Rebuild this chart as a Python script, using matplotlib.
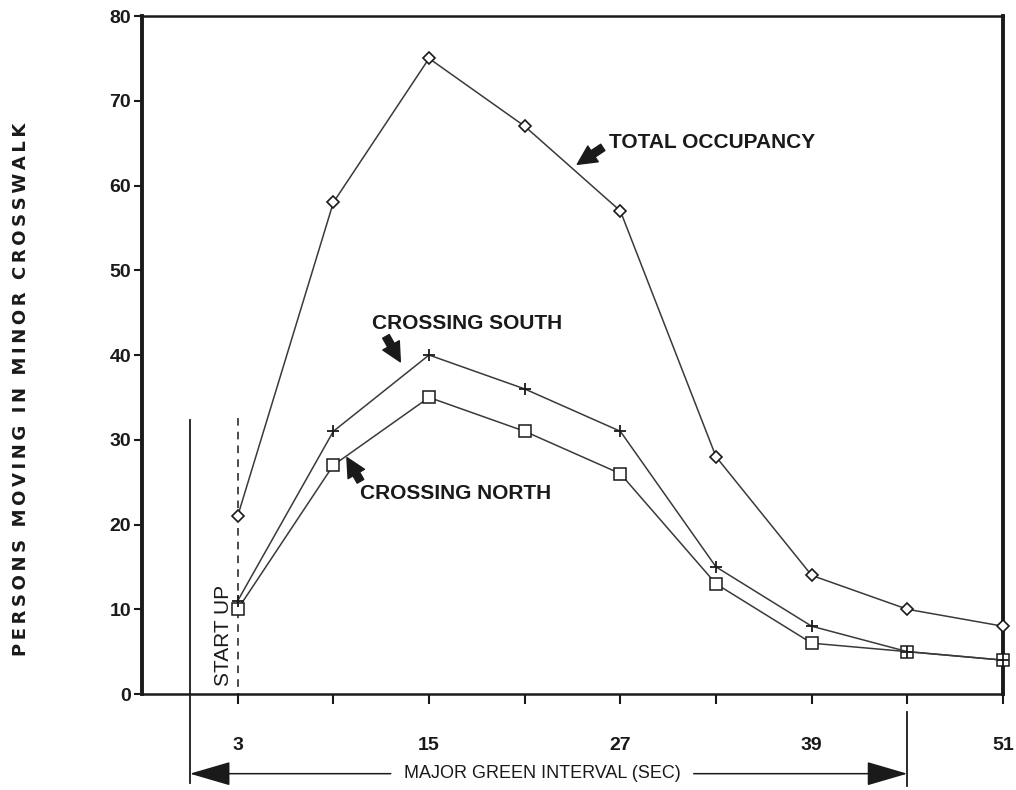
import numpy as np
import matplotlib.pyplot as plt

# green interval (sec)
seconds = [3, 9, 15, 21, 27, 33, 39, 45, 51]
total_occupancy = [21, 58, 75, 67, 57, 28, 14, 10, 8]
crossing_south = [11, 31, 40, 36, 31, 15, 8, 5, 4]
crossing_north = [10, 27, 35, 31, 26, 13, 6, 5, 4]

major_ticks = [3, 15, 27, 39, 51]
minor_ticks = [9, 21, 33, 45]
y_ticks = [0, 10, 20, 30, 40, 50, 60, 70, 80]
ylabel_words = ['PERSONS', 'MOVING', 'IN', 'MINOR', 'CROSSWALK']

ink = '#1a1a1a'
line = '#3a3a3a'
plt.rcParams['font.family'] = ['Liberation Sans', 'DejaVu Sans']

fig = plt.figure(figsize=(10.16, 7.9), dpi=100)
ax = fig.add_axes([0.1398, 0.1215, 0.8474, 0.8582])

ax.plot(seconds, total_occupancy, color=line, lw=1.1, marker='D', ms=6,
        mfc='white', mec=ink, mew=1.2, zorder=3, clip_on=False)
ax.plot(seconds, crossing_north, color=line, lw=1.1, marker='s', ms=8.5,
        mfc='white', mec=ink, mew=1.1, zorder=3, clip_on=False)
ax.plot(seconds, crossing_south, color=line, lw=1.1, marker='+', ms=9,
        mec=ink, mew=1.3, zorder=4, clip_on=False)

ax.set_xlim(-3, 51)
ax.set_ylim(0, 80)
ax.set_xticks(major_ticks)
ax.set_xticks(minor_ticks, minor=True)
ax.set_yticks(y_ticks)

ax.tick_params(axis='x', which='both', direction='out', length=7, width=1.5,
               pad=24, labelsize=14, colors=ink)
ax.tick_params(axis='y', direction='out', length=6, width=1.5, pad=2,
               labelsize=14, colors=ink)
for lab in ax.get_xticklabels() + ax.get_yticklabels():
    lab.set_fontweight('bold')

ax.spines['left'].set_linewidth(2.8)
ax.spines['right'].set_linewidth(2.8)
ax.spines['top'].set_linewidth(1.8)
ax.spines['bottom'].set_linewidth(1.8)
for s in ax.spines.values():
    s.set_color(ink)

# letter-spaced axis title
ylabel = '  '.join('\u2009'.join(w) for w in ylabel_words)
ax.set_ylabel(ylabel, fontsize=13, fontweight='bold', color=ink, labelpad=0,
              family='DejaVu Sans')
ax.yaxis.set_label_coords(-0.13, 0.45)

# start up marker
ax.plot([3, 3], [32.6, 0], color=ink, lw=1.1, ls=(0, (5, 4)), zorder=2)
ax.text(2.1, 6.9, 'START UP', rotation=90, ha='center', va='center',
        fontsize=15, color=ink)

# major green interval bracket (below the axis)
ax.plot([0, 0], [32.3, -10.5], color=ink, lw=1.3, clip_on=False)
ax.plot([45, 45], [-2.1, -10.8], color=ink, lw=1.3, clip_on=False)
head = dict(arrowstyle='-|>,head_length=1.3,head_width=0.38', color=ink,
            lw=1.1, shrinkA=0, shrinkB=0, mutation_scale=20)
ax.annotate('', xy=(0, -9.4), xytext=(12.6, -9.4), arrowprops=head,
            annotation_clip=False)
ax.annotate('', xy=(45, -9.4), xytext=(31.6, -9.4), arrowprops=head,
            annotation_clip=False)
ax.text(22.1, -9.4, 'MAJOR GREEN INTERVAL (SEC)', ha='center', va='center',
        fontsize=13, color=ink, clip_on=False,
        bbox=dict(fc='white', ec='none', pad=1))

# series labels with short fat arrows
fat = dict(arrowstyle='simple,head_length=0.8,head_width=0.8,tail_width=0.32',
           color=ink, shrinkA=0, shrinkB=0, mutation_scale=17)
ax.annotate('', xy=(24.3, 62.5), xytext=(25.9, 64.5), arrowprops=fat)
ax.text(26.3, 65.1, 'TOTAL OCCUPANCY', ha='left', va='center', fontsize=15,
        fontweight='bold', color=ink)
ax.annotate('', xy=(13.2, 39.2), xytext=(12.3, 42.2), arrowprops=fat)
ax.text(11.4, 43.7, 'CROSSING SOUTH', ha='left', va='center', fontsize=15,
        fontweight='bold', color=ink)
ax.annotate('', xy=(9.85, 27.9), xytext=(10.7, 25.1), arrowprops=fat)
ax.text(10.7, 23.7, 'CROSSING NORTH', ha='left', va='center', fontsize=15,
        fontweight='bold', color=ink)

fig.savefig('out.png', dpi=100)
